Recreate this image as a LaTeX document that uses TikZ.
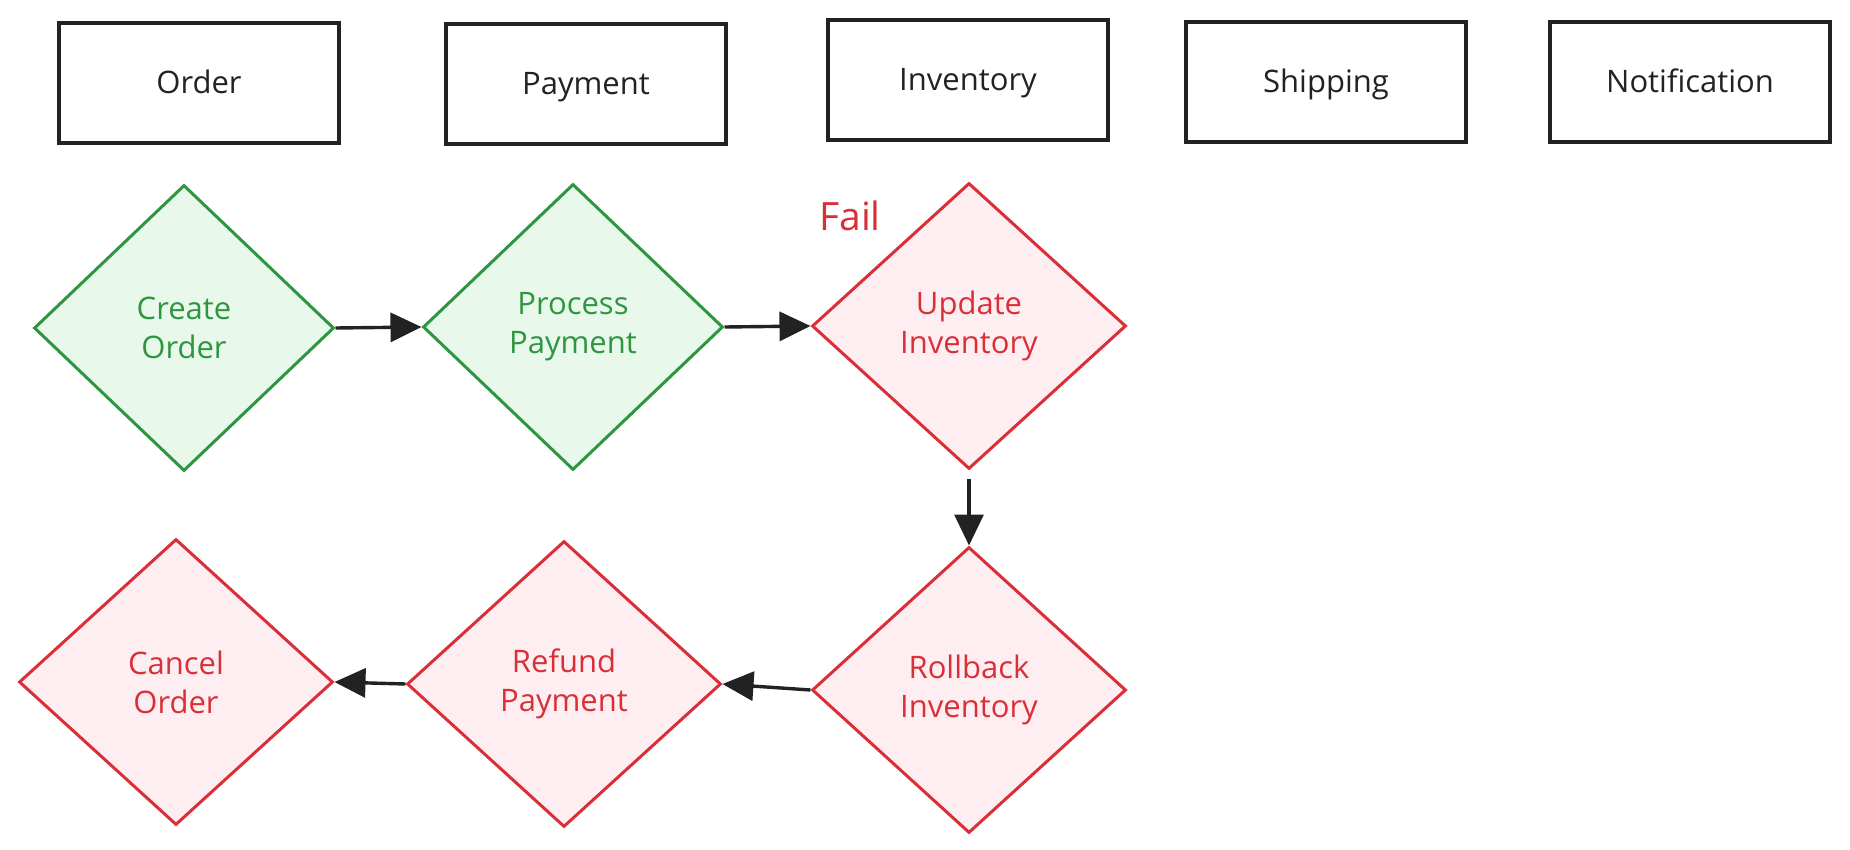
\documentclass[tikz,border=0pt]{standalone}
\usepackage{fontspec}
\setmainfont{Open Sans}
\usetikzlibrary{shapes.geometric}
\usetikzlibrary{arrows.meta}

\definecolor{okline}{RGB}{46,150,64}
\definecolor{okfill}{RGB}{232,248,235}
\definecolor{failline}{RGB}{217,48,56}
\definecolor{failfill}{RGB}{254,238,242}
\definecolor{ink}{RGB}{34,34,34}

\tikzset{
    service/.style={draw=ink, line width=1.9pt, minimum width=140pt, minimum height=60pt,
                    font=\fontsize{15.5}{19.5}\selectfont, text=ink,
                    text height=11pt, text depth=0pt},
    stepok/.style={diamond, draw=okline, fill=okfill, text=okline, line width=1.5pt,
                   minimum width=150pt, minimum height=143pt, align=center,
                   font=\fontsize{15.5}{19.5}\selectfont},
    stepfail/.style={stepok, draw=failline, fill=failfill, text=failline, minimum width=157pt},
    flow/.style={draw=ink, line width=1.7pt, -{Triangle[length=15.5pt, width=14.5pt]}}
}

\begin{document}
\begin{tikzpicture}[x=0.5pt, y=-0.5pt]
    \useasboundingbox (0,0) rectangle (1850,850);

    % Services
    \node [service] (order)    at (199,83)  {Order};
    \node [service] (payment)  at (586,84)  {Payment};
    \node [service] (inventory) at (968,80) {Inventory};
    \node [service] (shipping) at (1326,82) {Shipping};
    \node [service] (notify)   at (1690,82) {Notification};

    % Forward steps
    \node [stepok] (create)  at (184,328) {Create\\Order};
    \node [stepok] (process) at (573,327) {Process\\Payment};
    \node [stepfail] (update) at (969,326) {Update\\Inventory};
    \node [text=failline, font=\fontsize{19.5}{23}\selectfont] (fail) at (850,216) {Fail};

    % Compensation steps
    \node [stepfail] (rollback) at (969,690) {Rollback\\Inventory};
    \node [stepfail] (refund)   at (564,684) {Refund\\Payment};
    \node [stepfail] (cancel)   at (176,682) {Cancel\\Order};

    % Arrows
    \draw [flow] (create.east) -- (process.west);
    \draw [flow] (process.east) -- (update.west);
    \draw [flow, shorten <=4pt] (update.south) -- (rollback.north);
    \draw [flow] (rollback.west) -- (refund.east);
    \draw [flow] (refund.west) -- (cancel.east);
\end{tikzpicture}
\end{document}
